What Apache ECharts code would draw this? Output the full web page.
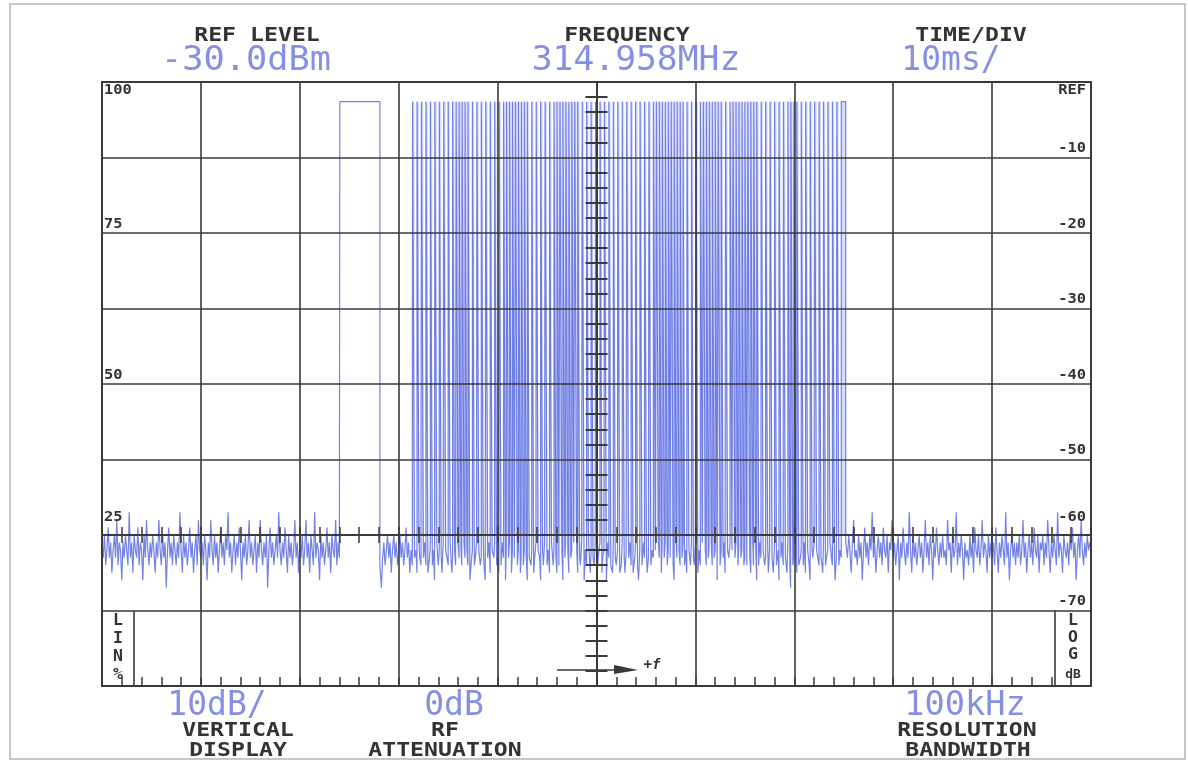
<!DOCTYPE html>
<html><head><meta charset="utf-8">
<script src="https://cdn.jsdelivr.net/npm/echarts@6/dist/echarts.min.js"></script>
<style>html,body{margin:0;padding:0;background:#fff;}#c{width:1188px;height:762px;}</style>
</head><body><div id="c"></div>
<script>
// ---- axes ----
const timeMin = 0, timeMax = 100, timeDiv = 10;          // ms, 10 ms/div
const dbMin = -80, dbMax = 0, dbDiv = 10;                 // dB, 10 dB/div
const linTicks = [100, 75, 50, 25];
const logTicks = [0, -10, -20, -30, -40, -50, -60, -70];
const logTickText = ['REF', '-10', '-20', '-30', '-40', '-50', '-60', '-70'];

// ---- trace ----
const topDb = -2.6;            // level of the carrier when keyed on
const burstFloorDb = -60;      // lower edge of the smeared burst fill
const noiseStep = 0.125;       // ms between noise samples
const noiseDb = [
 -61,-63,-60,-64,-62,-59,-63,-61,-65,-62,-60,-63,-58,-64,-61,-62,-66,-61,-63,-60,
 -62,-64,-57,-63,-61,-65,-60,-62,-63,-59,-64,-61,-62,-66,-60,-63,-58,-62,-64,-61,
 -63,-60,-62,-65,-61,-63,-58,-62,-64,-60,-63,-61,-67,-62,-59,-63,-61,-64,-60,-62,
 -64,-61,-63,-57,-62,-65,-60,-63,-61,-64,-62,-59,-63,-61,-65,-62,-60,-64,-58,-62,
 -63,-61,-64,-60,-62,-66,-61,-63,-58,-62,-64,-60,-63,-61,-65,-62,-59,-63,-61,-64,
 -60,-62,-57,-63,-61,-65,-62,-60,-64,-61,-63,-59,-62,-66,-61,-63,-60,-64,-62,-58,
 -63,-61,-64,-62,-60,-65,-61,-63,-58,-62,-64,-61,-63,-60,-67,-62,-59,-63,-61,-64,
 -62,-60,-63,-57,-62,-64,-61,-63,-59,-62,-65,-60,-63,-61,-64,-62,-58,-63,-61,-65,
 -61,-63,-60,-64,-62,-58,-63,-61,-65,-60,-62,-64,-57,-63,-61,-62,-66,-60,-63,-61,
 -64,-62,-59,-63,-61,-65,-60,-62,-63,-58,-64,-61,-63,-62,-60,-63,-61,-62,-60,-62,
 -62,-61,-63,-60,-62,-61,-63,-62,-60,-62,-61,-63,-62,-61,-63,-60,-62,-61,-63,-62,
 -62,-61,-63,-60,-62,-64,-67,-63,-61,-64,-62,-60,-63,-61,-65,-62,-60,-63,-61,-64,
 -62,-60,-63,-61,-64,-62,-59,-63,-61,-65,-62,-64,-61,-63,-62,-65,-61,-63,-64,-62,
 -63,-61,-64,-62,-65,-63,-61,-64,-62,-66,-63,-61,-64,-62,-63,-65,-61,-64,-62,-63,
 -64,-62,-61,-65,-63,-62,-64,-66,-61,-63,-62,-64,-65,-61,-63,-62,-64,-61,-66,-63,
 -62,-64,-63,-61,-65,-62,-64,-63,-61,-64,-66,-62,-63,-61,-65,-64,-62,-63,-61,-64,
 -63,-65,-62,-64,-61,-63,-66,-62,-64,-63,-61,-65,-62,-64,-63,-61,-64,-62,-65,-63,
 -61,-64,-62,-63,-66,-61,-63,-64,-62,-65,-63,-61,-64,-62,-63,-66,-62,-64,-61,-63,
 -64,-62,-65,-63,-61,-64,-62,-63,-65,-61,-64,-63,-62,-66,-63,-61,-64,-62,-65,-63,
 -62,-63,-61,-64,-62,-65,-63,-64,-61,-63,-66,-62,-64,-63,-61,-65,-62,-63,-64,-61,
 -63,-64,-62,-61,-65,-63,-62,-64,-66,-61,-63,-62,-64,-65,-61,-63,-64,-62,-63,-65,
 -64,-61,-63,-65,-62,-64,-63,-61,-64,-62,-65,-63,-61,-64,-66,-62,-63,-64,-61,-63,
 -62,-65,-63,-61,-64,-62,-63,-66,-62,-64,-61,-63,-65,-62,-64,-63,-61,-64,-62,-65,
 -63,-62,-64,-66,-61,-63,-65,-62,-64,-63,-61,-64,-62,-65,-63,-62,-64,-61,-63,-64,
 -61,-63,-65,-62,-64,-63,-61,-66,-62,-64,-63,-62,-65,-61,-64,-63,-62,-64,-66,-62,
 -64,-62,-63,-61,-65,-64,-62,-63,-61,-64,-62,-66,-63,-61,-64,-62,-65,-63,-62,-64,
 -63,-61,-64,-62,-63,-65,-61,-64,-63,-62,-66,-64,-61,-63,-65,-62,-64,-63,-61,-65,
 -62,-64,-63,-65,-61,-63,-64,-62,-66,-63,-61,-64,-62,-63,-65,-61,-64,-67,-63,-64,
 -63,-62,-65,-61,-64,-63,-62,-64,-61,-65,-63,-62,-64,-66,-62,-63,-61,-64,-62,-63,
 -64,-62,-63,-65,-61,-64,-63,-62,-65,-61,-63,-64,-62,-66,-63,-61,-64,-62,-63,-65,
 -62,-64,-61,-63,-60,-62,-65,-61,-58,-63,-62,-64,-60,-63,-61,-66,-62,-59,-63,-61,
 -64,-60,-62,-57,-63,-61,-65,-62,-60,-63,-61,-64,-59,-62,-63,-60,-65,-61,-62,-58,
 -63,-61,-64,-62,-60,-66,-61,-63,-59,-62,-64,-61,-63,-57,-62,-65,-60,-63,-61,-64,
 -62,-60,-63,-61,-65,-62,-58,-63,-61,-64,-60,-62,-66,-61,-63,-59,-62,-64,-61,-63,
 -60,-63,-62,-64,-58,-62,-61,-65,-60,-63,-62,-57,-64,-61,-63,-60,-62,-66,-61,-63,
 -62,-64,-60,-63,-61,-65,-59,-62,-63,-60,-64,-62,-58,-63,-61,-62,-65,-60,-63,-61,
 -63,-61,-64,-59,-62,-65,-61,-63,-60,-62,-64,-57,-63,-61,-66,-62,-60,-63,-61,-64,
 -61,-63,-60,-64,-62,-58,-63,-61,-65,-62,-60,-63,-61,-64,-59,-62,-63,-60,-65,-61,
 -62,-60,-64,-61,-63,-58,-62,-65,-61,-63,-60,-62,-64,-57,-63,-61,-62,-65,-60,-62,
 -63,-61,-64,-60,-62,-59,-63,-61,-66,-62,-60,-63,-58,-62,-64,-61,-63,-60,-62,-61,
 -62
];
// keyed-on intervals [start ms, end ms]
const pulses = [
 [24.05,28.1],
 [31.4,31.6],[31.85,32.05],[32.3,32.5],[32.75,32.95],[33.2,33.4],[33.65,33.85],[34.1,34.3],[34.55,34.75],[35.0,35.2],[35.45,35.65],
 [35.8,36.0],[36.1,36.3],[36.4,36.6],[36.7,36.9],[37.0,37.2],
 [37.45,37.65],[37.9,38.1],[38.35,38.55],[38.8,39.0],[39.25,39.45],[39.7,39.9],[40.15,40.35],
 [40.6,40.8],[40.9,41.1],[41.2,41.4],[41.5,41.7],[41.8,42.0],[42.1,42.3],[42.4,42.6],[42.7,42.9],[43.0,43.2],
 [43.45,43.65],[43.9,44.1],[44.35,44.55],[44.8,45.0],[45.25,45.45],
 [45.7,45.9],[46.0,46.2],[46.3,46.5],[46.6,46.8],[46.9,47.1],[47.2,47.4],[47.5,47.7],[47.8,48.0],[48.1,48.3],
 [48.55,48.75],[49.0,49.2],[49.45,49.65],[49.9,50.1],[50.35,50.55],[50.8,51.0],[51.25,51.45],[51.7,51.9],
 [52.15,52.35],[52.6,52.8],[53.05,53.25],[53.5,53.7],[53.95,54.15],[54.4,54.6],[54.85,55.05],[55.3,55.5],
 [55.75,55.95],[56.05,56.25],[56.35,56.55],[56.65,56.85],[56.95,57.15],[57.25,57.45],[57.55,57.75],[57.85,58.05],[58.15,58.35],[58.45,58.65],[58.75,58.9],
 [59.15,59.35],[59.6,59.8],[60.05,60.25],
 [60.5,60.7],[60.8,61.0],[61.1,61.3],[61.4,61.6],[61.7,61.9],[62.0,62.2],[62.3,62.5],[62.6,62.8],
 [63.05,63.25],
 [63.5,63.7],[63.8,64.0],[64.1,64.3],[64.4,64.6],[64.7,64.9],[65.0,65.2],[65.3,65.5],[65.6,65.8],[65.9,66.1],[66.2,66.4],
 [66.65,66.85],[67.1,67.3],[67.55,67.75],[68.0,68.2],[68.45,68.65],[68.9,69.1],
 [69.35,69.55],[69.65,69.85],[69.95,70.15],[70.25,70.45],
 [70.7,70.9],[71.15,71.35],[71.6,71.8],[72.05,72.25],[72.5,72.7],[72.95,73.15],[73.4,73.6],[73.85,74.05],[74.3,74.5],[74.75,75.2]
];

// ---- build the step trace from noise samples + keyed intervals ----
function noiseAt(t) { return noiseDb[Math.min(noiseDb.length - 1, Math.round(t / noiseStep))]; }
const trace = [];
let cursor = -1;
function pushNoise(from, to) {
  for (let i = 0; i < noiseDb.length; i++) {
    const t = i * noiseStep;
    if (t > from && t < to) trace.push([t, noiseDb[i]]);
  }
}
pulses.forEach(([s, e]) => {
  pushNoise(cursor, s);
  trace.push([s, noiseAt(s)], [s, topDb], [e, topDb], [e, noiseAt(e)]);
  cursor = e;
});
pushNoise(cursor, timeMax + 1);
const burstFill = pulses.slice(1).map(([s, e]) => [s, e]);

const GRID = '#3a3a3a';
const TRACE = '#5b6cdf';
const BLUE = '#8590e4';
const DARK = '#333';
const MONO = '"DejaVu Sans Mono", monospace';

const chart = echarts.init(document.getElementById('c'), null, {renderer: 'canvas'});

const hiddenLbl = {show: false};
const baseX = {type: 'value', min: timeMin, max: timeMax, interval: timeDiv, axisLabel: hiddenLbl};
const baseY = {type: 'value', min: dbMin, max: dbMax, interval: dbDiv, axisLabel: hiddenLbl};

chart.setOption({
  animation: false,
  backgroundColor: '#fff',
  grid: {left: 102, top: 82, right: 97, bottom: 76, show: true, borderColor: GRID, borderWidth: 2, backgroundColor: 'transparent', z: 5},
  xAxis: [
    Object.assign({}, baseX, {position: 'bottom', z: 5,
      axisLine: {show: true, onZero: false, lineStyle: {color: GRID, width: 2}},
      axisTick: {show: true, inside: true, length: 9, lineStyle: {color: GRID, width: 1.5}},
      minorTick: {show: true, splitNumber: 5, length: 9, lineStyle: {color: GRID, width: 1.5}},
      splitLine: {show: true, lineStyle: {color: GRID, width: 1.6}}}),
    Object.assign({}, baseX, {position: 'bottom', z: 5,
      axisLine: {show: true, onZero: true, onZeroAxisIndex: 2, lineStyle: {color: GRID, width: 1.6}},
      axisTick: {show: true, inside: true, length: 8, lineStyle: {color: GRID, width: 1.5}},
      minorTick: {show: true, splitNumber: 5, length: 8, lineStyle: {color: GRID, width: 1.5}},
      splitLine: {show: false}}),
    Object.assign({}, baseX, {position: 'bottom', z: 5,
      axisLine: {show: true, onZero: true, onZeroAxisIndex: 2, lineStyle: {color: GRID, width: 1.6}},
      axisTick: {show: true, inside: false, length: 8, lineStyle: {color: GRID, width: 1.5}},
      minorTick: {show: true, splitNumber: 5, length: 8, lineStyle: {color: GRID, width: 1.5}},
      splitLine: {show: false}}),
    {type: 'value', min: -50, max: 50, show: false, axisLine: {onZero: false}}
  ],
  yAxis: [
    Object.assign({}, baseY, {position: 'right', z: 5,
      axisLine: {show: false, onZero: false}, axisTick: {show: false},
      splitLine: {show: true, lineStyle: {color: GRID, width: 1.6}}}),
    {type: 'value', min: 0, max: 100, interval: 25, show: false, axisLine: {onZero: false}},
    {type: 'value', min: -25, max: 75, show: false, axisLine: {onZero: false}},
    Object.assign({}, baseY, {position: 'left', z: 5,
      axisLine: {show: true, onZero: true, onZeroAxisIndex: 3, lineStyle: {color: GRID, width: 1.6}},
      axisTick: {show: true, inside: true, length: 11, lineStyle: {color: GRID, width: 2}},
      minorTick: {show: true, splitNumber: 5, length: 11, lineStyle: {color: GRID, width: 2}},
      splitLine: {show: false}}),
    Object.assign({}, baseY, {position: 'left', z: 5,
      axisLine: {show: true, onZero: true, onZeroAxisIndex: 3, lineStyle: {color: GRID, width: 1.6}},
      axisTick: {show: true, inside: false, length: 11, lineStyle: {color: GRID, width: 2}},
      minorTick: {show: true, splitNumber: 5, length: 11, lineStyle: {color: GRID, width: 2}},
      splitLine: {show: false}})
  ],
  series: [{
    type: 'custom', xAxisIndex: 0, yAxisIndex: 0, data: burstFill, z: 1, silent: true,
    encode: {x: [0, 1]},
    renderItem: function (params, api) {
      const p0 = api.coord([api.value(0), topDb]);
      const p1 = api.coord([api.value(1), burstFloorDb]);
      return {type: 'rect', shape: {x: p0[0], y: p0[1], width: p1[0] - p0[0], height: p1[1] - p0[1]},
        style: {fill: 'rgba(130,144,236,0.3)'}};
    }
  }, {
    type: 'line', xAxisIndex: 0, yAxisIndex: 0, data: trace,
    showSymbol: false, symbol: 'none', z: 2,
    lineStyle: {color: TRACE, width: 1.2, opacity: 0.85}
  }]
});

// ---- text & decorations ----
function txt(x, y, text, font, fill, scaleX, align) {
  return {type: 'text', x: x, y: y, scaleX: scaleX || 1, z: 20,
    style: {text: text, font: font, fill: fill, align: align || 'center', verticalAlign: 'middle'}};
}
const FD = 'bold 19px ' + MONO, FB = '33px ' + MONO, FS = 'bold 14px ' + MONO;
const SX = 1.22;
const py = v => chart.convertToPixel({yAxisIndex: 0}, v);
const pyl = v => chart.convertToPixel({yAxisIndex: 1}, v);

const g = [];
g.push({type: 'rect', shape: {x: 10, y: 4, width: 1175, height: 755}, style: {fill: 'none', stroke: '#b5b5b5', lineWidth: 1.5}, z: 1});
g.push(txt(257, 36, 'REF LEVEL', FD, DARK, SX));
g.push(txt(246, 61, '-30.0dBm', FB, BLUE, 1.07));
g.push(txt(627, 36, 'FREQUENCY', FD, DARK, SX));
g.push(txt(636, 61, '314.958MHz', FB, BLUE, 1.05));
g.push(txt(971, 36, 'TIME/DIV', FD, DARK, SX));
g.push(txt(951, 61, '10ms/', FB, BLUE, 1.0));
g.push(txt(217, 706, '10dB/', FB, BLUE, 1.0));
g.push(txt(238, 731, 'VERTICAL', FD, DARK, SX));
g.push(txt(238, 751, 'DISPLAY', FD, DARK, SX));
g.push(txt(454, 706, '0dB', FB, BLUE, 1.0));
g.push(txt(445, 731, 'RF', FD, DARK, SX));
g.push(txt(445, 751, 'ATTENUATION', FD, DARK, SX));
g.push(txt(965, 706, '100kHz', FB, BLUE, 1.02));
g.push(txt(967, 731, 'RESOLUTION', FD, DARK, SX));
g.push(txt(968, 751, 'BANDWIDTH', FD, DARK, SX));

linTicks.forEach(v => {
  const off = v === 100 ? 8 : (v === 25 ? -18 : -9);
  g.push(txt(104, pyl(v) + off, String(v), FS, DARK, 1.1, 'left'));
});
logTicks.forEach((v, i) => {
  const off = v === 0 ? 8 : (v === -60 ? -18 : -9);
  g.push(txt(1086, py(v) + off, logTickText[i], FS, DARK, 1.1, 'right'));
});

// LIN % / LOG dB side boxes
const yTopBox = py(-70), yBot = py(-80);
g.push({type: 'line', shape: {x1: 134, y1: yTopBox, x2: 134, y2: yBot}, style: {stroke: GRID, lineWidth: 1.6}, z: 10});
g.push({type: 'line', shape: {x1: 1055, y1: yTopBox, x2: 1055, y2: yBot}, style: {stroke: GRID, lineWidth: 1.6}, z: 10});
['L', 'I', 'N', '%'].forEach((c, i) => g.push(txt(118, 621 + i * 18, c, 'bold 15px ' + MONO, DARK, 1.1)));
['L', 'O', 'G'].forEach((c, i) => g.push(txt(1073, 621 + i * 17, c, 'bold 15px ' + MONO, DARK, 1.1)));
g.push(txt(1073, 675, 'dB', 'bold 13px ' + MONO, DARK, 1));

// +f marker
const yMk = 670;
g.push({type: 'line', shape: {x1: 557, y1: yMk, x2: 620, y2: yMk}, style: {stroke: GRID, lineWidth: 1.6}, z: 10});
g.push({type: 'polygon', shape: {points: [[614, yMk - 5], [638, yMk], [614, yMk + 4]]}, style: {fill: GRID}, z: 10});
g.push(txt(652, yMk - 5, '+f', 'italic bold 14px ' + MONO, DARK, 1));

chart.setOption({graphic: g});
</script></body></html>
